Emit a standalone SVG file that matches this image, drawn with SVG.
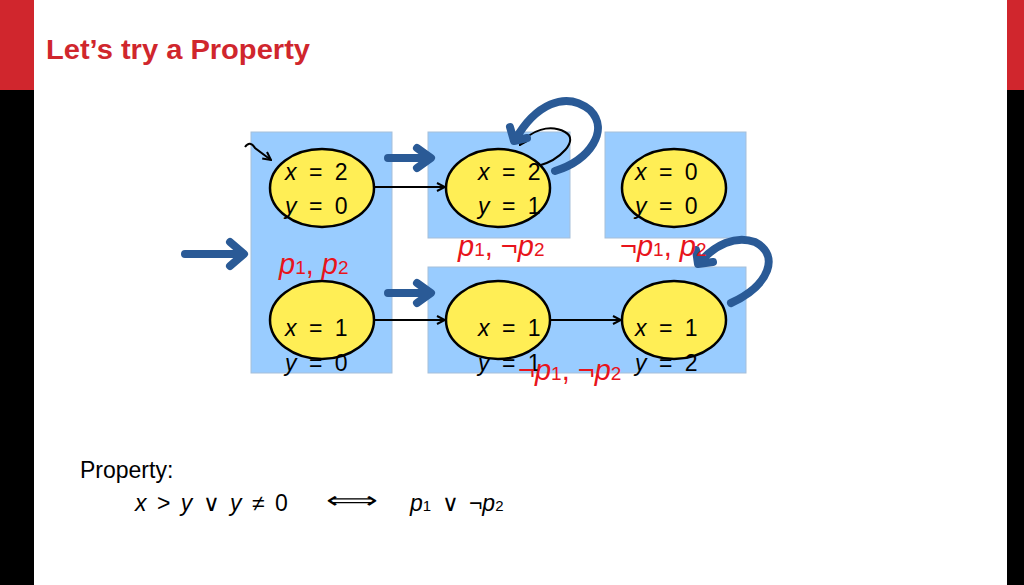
<svg xmlns="http://www.w3.org/2000/svg" width="1024" height="585" viewBox="0 0 1024 585">
<defs>
<style>
.box{fill:#99ccff;stroke:#a6bfd9;stroke-width:1}
.st{fill:#ffee55;stroke:#000;stroke-width:2.5}
.t{font-family:"Liberation Sans",Arial,sans-serif;font-size:23px;fill:#000}
.s{word-spacing:6px}
.r{font-family:"Liberation Sans",Arial,sans-serif;font-size:29px;fill:#e8141c}
.big{fill:none;stroke:#2a5a96;stroke-width:8;stroke-linecap:round;stroke-linejoin:round}
.thin{fill:none;stroke:#000;stroke-width:2}
</style>
<marker id="a" markerWidth="10" markerHeight="10" refX="9" refY="5" orient="auto" markerUnits="userSpaceOnUse"><path d="M1,1 L9,5 L1,9" fill="none" stroke="#000" stroke-width="2"/></marker>
</defs>
<rect width="1024" height="585" fill="#fff"/>
<rect x="0" y="0" width="34" height="90" fill="#d0262d"/>
<rect x="0" y="90" width="34" height="495" fill="#000"/>
<rect x="1007" y="0" width="17" height="90" fill="#d0262d"/>
<rect x="1007" y="90" width="17" height="495" fill="#000"/>
<text x="46" y="59" font-family="Liberation Sans,Arial,sans-serif" font-weight="bold" font-size="27" fill="#d0262d" textLength="264" lengthAdjust="spacingAndGlyphs">Let’s try a Property</text>
<g id="regions">
<rect class="box" x="251" y="132" width="141" height="241"/>
<rect class="box" x="428" y="132" width="142" height="106"/>
<rect class="box" x="605" y="132" width="141" height="106"/>
<rect class="box" x="428" y="267" width="318" height="106"/>
</g>
<g id="connectors">
<path class="thin" d="M245,147 Q250,140 255,148 L271,160" marker-end="url(#a)"/>
<line class="thin" x1="375" y1="187" x2="445" y2="187" marker-end="url(#a)"/>
<line class="thin" x1="375" y1="320" x2="445" y2="320" marker-end="url(#a)"/>
<line class="thin" x1="551" y1="320" x2="621" y2="320" marker-end="url(#a)"/>
<path class="thin" d="M538,166 C560,160 580,140 565,132 C550,124 530,130 520,145" marker-end="url(#a)"/>
<path class="big" d="M185,254 L240,254 M230,242 L244,254 L230,266"/>
<path class="big" d="M388,158 L425,158 M417,148 L431,158 L417,168"/>
<path class="big" d="M388,293 L425,293 M417,283 L431,293 L417,303"/>
<path class="big" d="M555,171 C590,160 610,130 590,110 C565,90 535,105 515,140 M510,127 L514,141 L527,138"/>
<path class="big" d="M731,303 C770,285 780,255 755,242 C735,235 715,245 700,262 M696,250 L698,264 L713,262"/>
</g>
<g id="s1"><ellipse class="st" cx="322" cy="188" rx="52" ry="39"/><text class="t s" x="285" y="180"><tspan font-style="italic">x</tspan> = 2</text><text class="t s" x="285" y="214"><tspan font-style="italic">y</tspan> = 0</text></g>
<g id="s2"><ellipse class="st" cx="498" cy="188" rx="52" ry="39"/><text class="t s" x="478" y="180"><tspan font-style="italic">x</tspan> = 2</text><text class="t s" x="478" y="214"><tspan font-style="italic">y</tspan> = 1</text></g>
<g id="s3"><ellipse class="st" cx="674" cy="188" rx="52" ry="39"/><text class="t s" x="635" y="180"><tspan font-style="italic">x</tspan> = 0</text><text class="t s" x="635" y="214"><tspan font-style="italic">y</tspan> = 0</text></g>
<g id="s4"><ellipse class="st" cx="322" cy="320" rx="52" ry="39"/><text class="t s" x="285" y="336"><tspan font-style="italic">x</tspan> = 1</text><text class="t s" x="285" y="371"><tspan font-style="italic">y</tspan> = 0</text></g>
<g id="s5"><ellipse class="st" cx="498" cy="320" rx="52" ry="39"/><text class="t s" x="478" y="336"><tspan font-style="italic">x</tspan> = 1</text><text class="t s" x="478" y="371"><tspan font-style="italic">y</tspan> = 1</text></g>
<g id="s6"><ellipse class="st" cx="674" cy="320" rx="52" ry="39"/><text class="t s" x="635" y="336"><tspan font-style="italic">x</tspan> = 1</text><text class="t s" x="635" y="371"><tspan font-style="italic">y</tspan> = 2</text></g>
<g id="labels">
<text class="r" x="279" y="274"><tspan font-style="italic">p</tspan><tspan font-size="19">1</tspan>, <tspan font-style="italic">p</tspan><tspan font-size="19">2</tspan></text>
<text class="r" x="458" y="256"><tspan font-style="italic">p</tspan><tspan font-size="19">1</tspan>, ¬<tspan font-style="italic">p</tspan><tspan font-size="19">2</tspan></text>
<text class="r" x="620" y="256">¬<tspan font-style="italic">p</tspan><tspan font-size="19">1</tspan>, <tspan font-style="italic">p</tspan><tspan font-size="19">2</tspan></text>
<text class="r" x="518" y="380">¬<tspan font-style="italic">p</tspan><tspan font-size="19">1</tspan>, ¬<tspan font-style="italic">p</tspan><tspan font-size="19">2</tspan></text>
</g>
<text class="t" x="80" y="478">Property:</text>
<text class="t" x="135" y="511" word-spacing="4"><tspan font-style="italic">x</tspan> &gt; <tspan font-style="italic">y</tspan> ∨ <tspan font-style="italic">y</tspan> ≠ 0</text>
<text class="t" x="326" y="508" font-size="22" textLength="52" lengthAdjust="spacingAndGlyphs">⟺</text>
<text class="t" x="410" y="511" word-spacing="4"><tspan font-style="italic">p</tspan><tspan font-size="15">1</tspan> ∨ ¬<tspan font-style="italic">p</tspan><tspan font-size="15">2</tspan></text>
</svg>
